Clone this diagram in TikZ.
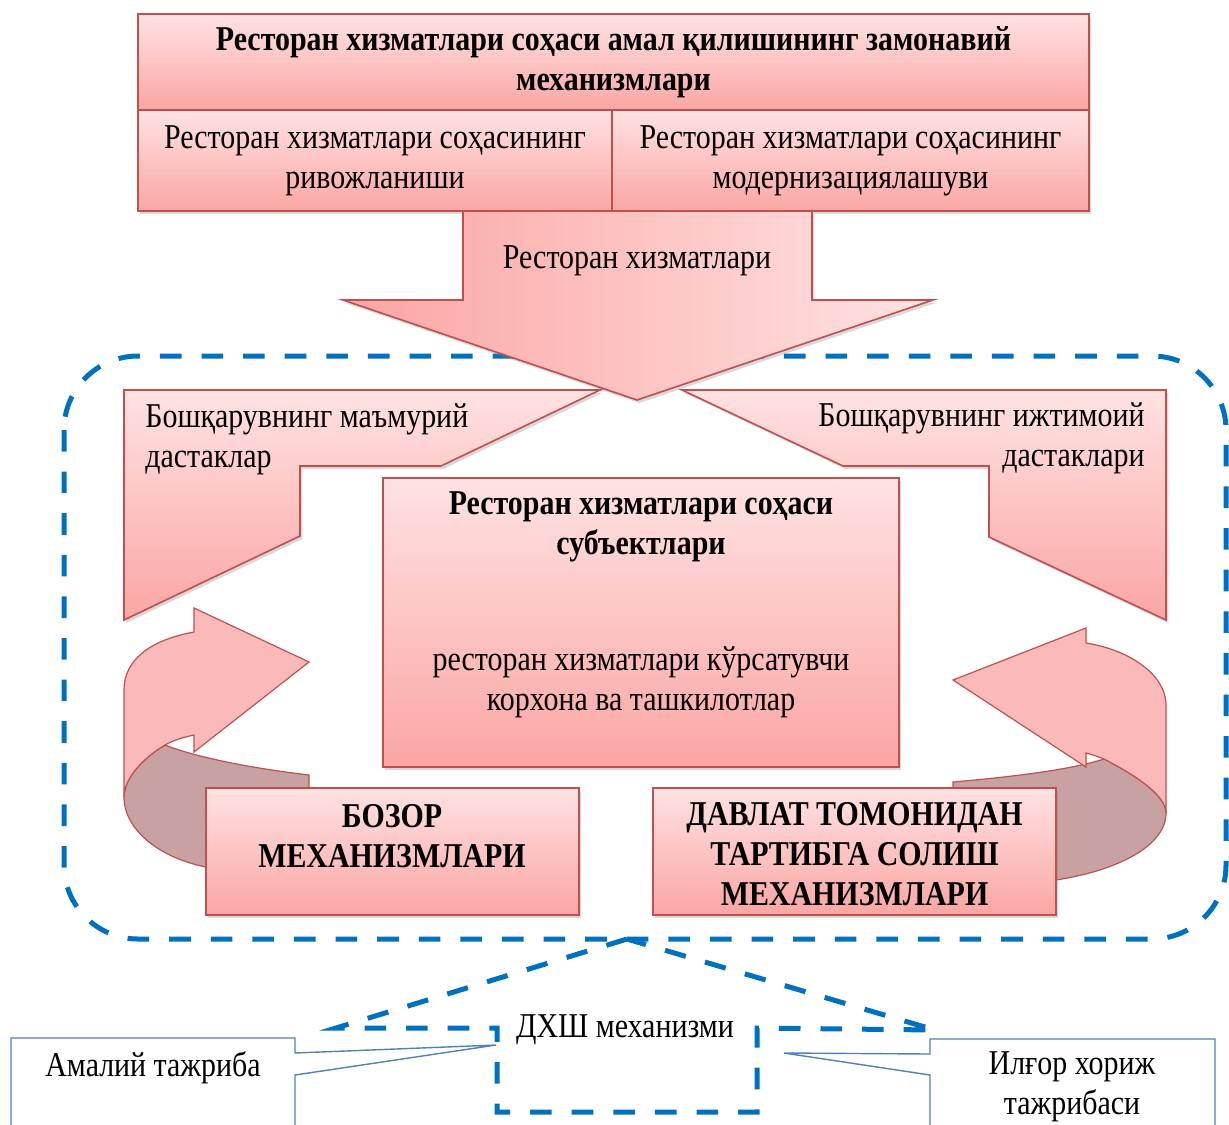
\documentclass[tikz,border=0pt]{standalone}
\usepackage{fontspec}
\setmainfont{Liberation Serif}[FakeStretch=0.86]
\usetikzlibrary{positioning,shadows}

\definecolor{boxtop}{RGB}{255,226,226}
\definecolor{boxbot}{RGB}{250,166,164}
\definecolor{boxedge}{RGB}{192,80,77}
\definecolor{ribdark}{RGB}{200,162,162}
\definecolor{ribpink}{RGB}{250,186,186}
\definecolor{dhblue}{RGB}{0,112,192}
\definecolor{calblue}{RGB}{79,129,189}

\newcommand{\dtext}{\fontsize{17.4pt}{20pt}\selectfont}

\tikzset{
  pinkbox/.style={draw=boxedge, line width=0.8pt, outer sep=0pt, inner sep=0pt,
    top color=boxtop, bottom color=boxbot, align=center,
    drop shadow={shadow xshift=1.2pt, shadow yshift=-1.5pt, opacity=0.3}},
  ribbon/.style={draw=boxedge, line width=0.6pt},
  dashbox/.style={draw=dhblue, line width=2.5pt, dash pattern=on 10.8pt off 10pt},
  callout/.style={draw=calblue, line width=0.7pt, fill=white},
  lbl/.style={align=center, inner sep=0pt}
}

\begin{document}
\begin{tikzpicture}[x=0.5pt, y=-0.5pt, font=\dtext]
\useasboundingbox (0,0) rectangle (1229,1124);

% dashed frame of the inner block
\draw[dashbox, rounded corners=37pt] (64,356) rectangle (1226,939);

% bent arrows (levers)
\path[pinkbox] (124,390) -- (600,390) -- (441,466) -- (300,466) -- (300,536) -- (124,620) -- cycle;
\path[pinkbox] (682,390) -- (1166,390) -- (1166,620) -- (989,537) -- (989,466) -- (843,466) -- cycle;
\node[lbl, align=left, anchor=west] (admlbl) at (145,439) {Бошқарувнинг маъмурий\\дастаклар};
\node[lbl, align=right, anchor=east] (soclbl) at (1145,438) {Бошқарувнинг ижтимоий\\дастаклари};

% top boxes
\node[pinkbox, minimum width=475.5pt, minimum height=48pt, font=\dtext\bfseries] (title) at (613.5,62)
  {Ресторан хизматлари соҳаси амал қилишининг замонавий\\механизмлари};
\node[pinkbox, minimum width=237pt, minimum height=50.5pt, below right=0pt of title.south west] (devbox)
  {Ресторан хизматлари соҳасининг\\ривожланиши};
\node[pinkbox, minimum width=238.5pt, minimum height=50.5pt, below left=0pt of title.south east] (modbox)
  {Ресторан хизматлари соҳасининг\\модернизациялашуви};

% big arrow down
\path[pinkbox, left color=boxbot, right color=boxtop] (463,211) -- (812,211) -- (812,300) -- (933,300)
  -- (637,400) -- (343,300) -- (463,300) -- cycle;
\node[lbl] (servlbl) at (637,261) {Ресторан хизматлари};

% subjects
\node[pinkbox, minimum width=258pt, minimum height=144.5pt] (subjbox) at (641,622.5) {};
\node[lbl, font=\dtext\bfseries] (subjtitle) at (641,526.5) {Ресторан хизматлари соҳаси\\субъектлари};
\node[lbl] (subjbody) at (641,682.5) {ресторан хизматлари кўрсатувчи\\корхона ва ташкилотлар};

% curved arrows
\fill[ribdark, draw=boxedge, line width=0.6pt] (309,775) .. controls (250,768) and (195,757) .. (165,745)
  .. controls (140,760) and (124,780) .. (124,797) .. controls (124,830) and (160,858) .. (206,867)
  -- (309,867) -- cycle;
\path[ribbon, fill=ribpink] (124,797) -- (124,690) .. controls (124,660) and (150,640) .. (194,632)
  -- (194,608) -- (309,662) -- (194,752) -- (194,735) .. controls (180,738) and (172,741) .. (165,745)
  .. controls (140,760) and (124,780) .. (124,797) -- cycle;
\fill[ribdark, draw=boxedge, line width=0.6pt] (953,782) .. controls (1010,777) and (1070,770) .. (1104,759)
  .. controls (1135,775) and (1166,795) .. (1166,813) .. controls (1166,845) and (1120,870) .. (1056,880)
  -- (953,880) -- cycle;
\path[ribbon, fill=ribpink] (1166,813) -- (1166,705) .. controls (1166,675) and (1130,650) .. (1086,643)
  -- (1086,628) -- (953,680) -- (1086,767) -- (1086,753) .. controls (1093,755) and (1100,757) .. (1104,759)
  .. controls (1135,775) and (1166,795) .. (1166,813) -- cycle;

% mechanisms
\node[pinkbox, minimum width=186.5pt, minimum height=63.5pt] (marketbox) at (392.5,851.5) {};
\node[lbl, font=\dtext\bfseries] (marketlbl) at (392,836.5) {БОЗОР\\МЕХАНИЗМЛАРИ};
\node[pinkbox, minimum width=201.5pt, minimum height=63.5pt] (statebox) at (854.5,851.5) {};
\node[lbl, font=\dtext\bfseries] (statelbl) at (854.5,854) {ДАВЛАТ ТОМОНИДАН\\ТАРТИБГА СОЛИШ\\МЕХАНИЗМЛАРИ};

% public-private partnership
\draw[dashbox] (627,939) -- (336,1028) -- (497,1028) -- (497,1112) -- (757,1112) -- (757,1028)
  -- (935,1030) -- cycle;
\node[lbl] (dhshlbl) at (625,1030) {ДХШ механизми};

% callouts
\path[callout] (11,1130) -- (11,1038) -- (295,1038) -- (295,1053) -- (496,1045) -- (295,1075) -- (295,1130);
\node[lbl] (praclbl) at (153,1068) {Амалий тажриба};
\path[callout] (1215,1130) -- (1215,1039) -- (930,1039) -- (930,1054) -- (784,1053) -- (930,1075) -- (930,1130);
\node[lbl] (foreignlbl) at (1072,1087) {Илғор хориж\\тажрибаси};

\end{tikzpicture}
\end{document}
